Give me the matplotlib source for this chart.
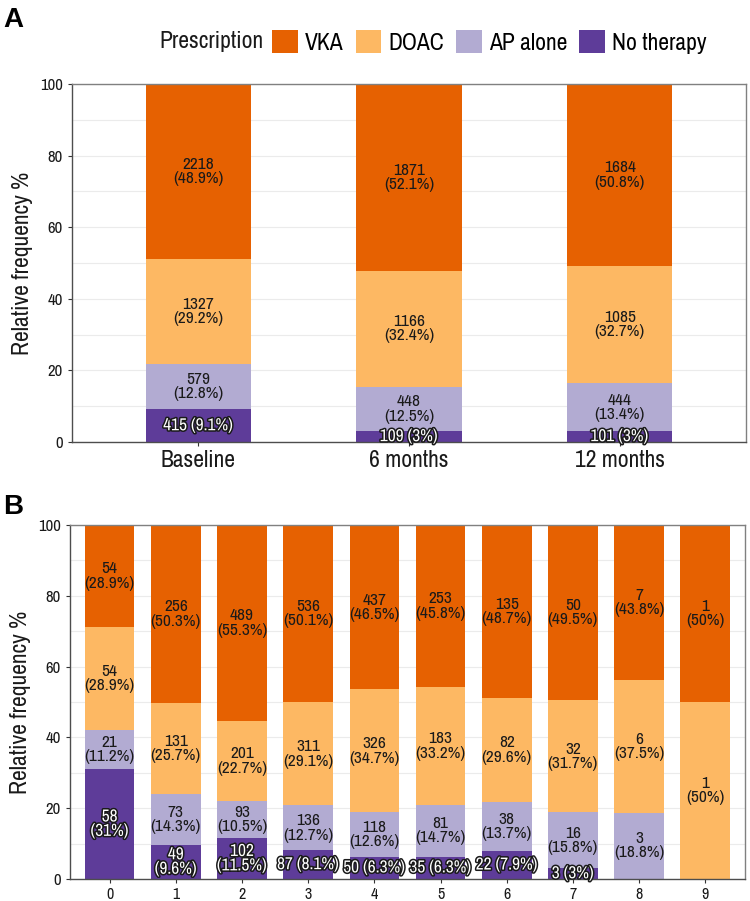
import matplotlib
matplotlib.use("Agg")
import matplotlib.pyplot as plt
import matplotlib.patheffects as pe
from matplotlib.patches import Patch
import numpy as np

plt.rcParams['font.family'] = ['Liberation Sans Narrow', 'Archivo Narrow', 'Roboto Condensed', 'DejaVu Sans']

# Данные: панель A
periods = ["Baseline", "6 months", "12 months"]
a_counts = {
    "VKA": [2218, 1871, 1684],
    "DOAC": [1327, 1166, 1085],
    "AP alone": [579, 448, 444],
    "No therapy": [415, 109, 101],
}
a_pct = {
    "VKA": [48.9, 52.1, 50.8],
    "DOAC": [29.2, 32.4, 32.7],
    "AP alone": [12.8, 12.5, 13.4],
    "No therapy": [9.1, 3, 3],
}

# Данные: панель B
groups = [str(i) for i in range(10)]
b_counts = {
    "VKA": [54, 256, 489, 536, 437, 253, 135, 50, 7, 1],
    "DOAC": [54, 131, 201, 311, 326, 183, 82, 32, 6, 1],
    "AP alone": [21, 73, 93, 136, 118, 81, 38, 16, 3, 0],
    "No therapy": [58, 49, 102, 87, 50, 35, 22, 3, 0, 0],
}
b_pct = {
    "VKA": [28.9, 50.3, 55.3, 50.1, 46.5, 45.8, 48.7, 49.5, 43.8, 50],
    "DOAC": [28.9, 25.7, 22.7, 29.1, 34.7, 33.2, 29.6, 31.7, 37.5, 50],
    "AP alone": [11.2, 14.3, 10.5, 12.7, 12.6, 14.7, 13.7, 15.8, 18.8, 0],
    "No therapy": [31, 9.6, 11.5, 8.1, 6.3, 6.3, 7.9, 3, 0, 0],
}

colors = {"VKA": "#e66101", "DOAC": "#fdb863", "AP alone": "#b2abd2", "No therapy": "#5e3c99"}
stack_order = ["No therapy", "AP alone", "DOAC", "VKA"]  # снизу вверх
legend_order = ["VKA", "DOAC", "AP alone", "No therapy"]


def draw_panel(ax, cats, counts, pct, width, tick_size, single_line):
    x = np.arange(len(cats))
    total = np.sum([pct[k] for k in stack_order], axis=0)
    bottom = np.zeros(len(cats))
    for key in stack_order:
        h = np.array(pct[key]) / total * 100
        ax.bar(x, h, width=width, bottom=bottom, color=colors[key], linewidth=0, zorder=2)
        for i in range(len(cats)):
            if counts[key][i] == 0:
                continue
            p = f"{pct[key][i]:g}%"
            if key == "No therapy" and single_line(pct[key][i]):
                s = f"{counts[key][i]} ({p})"
            else:
                s = f"{counts[key][i]}\n({p})"
            yc = bottom[i] + h[i] / 2
            if key == "No therapy":
                ax.text(x[i], yc, s, ha="center", va="center", fontsize=12.5, color="white",
                        linespacing=0.95, zorder=3,
                        path_effects=[pe.withStroke(linewidth=2.2, foreground="#1a1a1a")])
            else:
                ax.text(x[i], yc, s, ha="center", va="center", fontsize=12.5, color="#1a1a1a",
                        linespacing=0.95, zorder=3)
        bottom += h

    ax.set_xlim(-0.6, len(cats) - 0.4)
    ax.set_ylim(0, 100)
    ax.set_xticks(x)
    ax.set_xticklabels(cats, fontsize=tick_size, color="#1a1a1a")
    ax.set_yticks([0, 20, 40, 60, 80, 100])
    ax.set_yticks([10, 30, 50, 70, 90], minor=True)
    ax.tick_params(axis="y", labelsize=12, colors="#333333", labelcolor="#1a1a1a", length=3, width=0.8)
    ax.tick_params(axis="y", which="minor", length=0)
    ax.tick_params(axis="x", colors="#333333", labelcolor="#1a1a1a", length=3, width=0.8, pad=2.5)
    ax.grid(True, axis="y", which="both", color="#ebebeb", lw=0.8, zorder=0)
    ax.set_axisbelow(True)
    for sp in ax.spines.values():
        sp.set_color("#808080")
        sp.set_linewidth(1.0)
    ax.spines["left"].set_color("#4d4d4d")
    ax.spines["bottom"].set_color("#4d4d4d")
    ax.set_ylabel("Relative frequency %", fontsize=17, color="#1a1a1a", labelpad=5)


fig = plt.figure(figsize=(7.5, 9.01), dpi=100)

ax_a = fig.add_axes([0.096, 0.5094, 0.8987, 0.3973])
draw_panel(ax_a, periods, a_counts, a_pct, 0.5, 17, lambda v: True)

ax_b = fig.add_axes([0.0933, 0.0244, 0.9, 0.3929])
draw_panel(ax_b, groups, b_counts, b_pct, 0.75, 11.5, lambda v: v < 9)

# Легенда сверху: заголовок слева от ключей
fig.text(0.212, 0.9534, "Prescription", fontsize=17, color="#1a1a1a", ha="left", va="center")
handles = [Patch(facecolor=colors[k], edgecolor="none", label=k) for k in legend_order]
fig.legend(handles=handles, loc="center left", bbox_to_anchor=(0.3627, 0.9534), ncol=4,
           frameon=False, fontsize=17, handlelength=1.1, handleheight=1.1,
           handletextpad=0.3, columnspacing=0.5, borderaxespad=0, borderpad=0)

fig.text(0.004, 0.978, "A", fontsize=20, fontweight="bold", va="center", ha="left",
         family=["Liberation Sans", "DejaVu Sans"])
fig.text(0.004, 0.437, "B", fontsize=20, fontweight="bold", va="center", ha="left",
         family=["Liberation Sans", "DejaVu Sans"])

plt.savefig("out.png", dpi=100)
